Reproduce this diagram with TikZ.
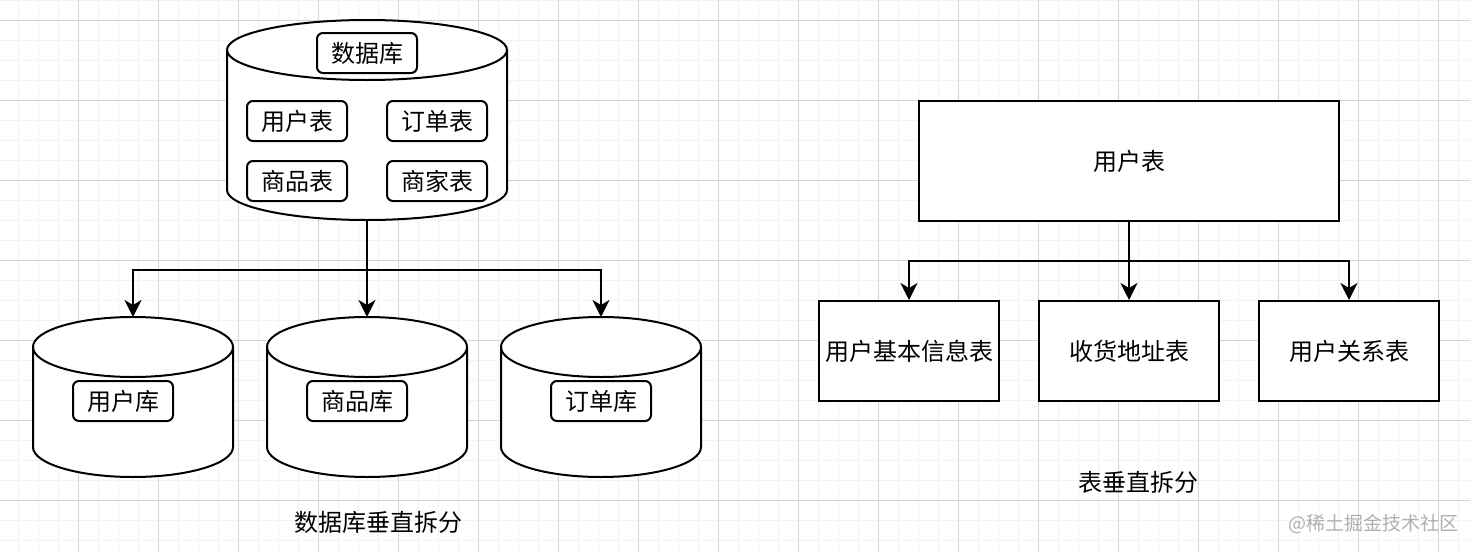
\documentclass[tikz,border=0pt]{standalone}
\usepackage{fontspec}
\newfontfamily\cjk{Noto Sans CJK SC}
\usetikzlibrary{arrows.meta}
\definecolor{minorgrid}{RGB}{243,243,243}
\definecolor{majorgrid}{RGB}{212,212,212}
\definecolor{wmark}{RGB}{175,175,175}
\newcommand\mycyl[5]{% cx, top, bottom, rx, ry
  \filldraw[line width=2pt,fill=white] (#1-#4,#2+#5) -- (#1-#4,#3-#5)
    arc[start angle=180,end angle=360,x radius=#4pt,y radius=#5pt]
    -- (#1+#4,#2+#5)
    arc[start angle=0,end angle=180,x radius=#4pt,y radius=#5pt] -- cycle;
  \draw[line width=2pt] (#1-#4,#2+#5)
    arc[start angle=180,end angle=360,x radius=#4pt,y radius=#5pt];
}
\tikzset{
  txt/.style={font=\cjk\fontsize{24}{27}\selectfont, inner sep=0pt},
  rbox/.style={txt, draw, line width=2pt, rounded corners=6pt, fill=white,
    minimum width=100pt, minimum height=40pt},
  sbox/.style={txt, draw, line width=2pt, fill=white},
  holder/.style={inner sep=0pt, outer sep=0pt},
  arr/.style={line width=2pt, -{Stealth[length=17pt,width=17pt,inset=5pt]}},
  plain/.style={line width=2pt},
}
\begin{document}
\begin{tikzpicture}[x=1pt,y=-1pt]
\useasboundingbox (0,0) rectangle (1470,552);
\fill[white] (0,0) rectangle (1470,552);
% grid
\foreach \gx in {18,38,...,1470} \draw[minorgrid,line width=1pt] (\gx,0) -- (\gx,552);
\foreach \gy in {0,20,...,552} \draw[minorgrid,line width=1pt] (0,\gy) -- (1470,\gy);
\foreach \gx in {78,158,...,1470} \draw[majorgrid,line width=1pt] (\gx,0) -- (\gx,552);
\foreach \gy in {20,100,...,552} \draw[majorgrid,line width=1pt] (0,\gy) -- (1470,\gy);

% ---- left: database vertical split ----
\node[holder, minimum width=280pt, minimum height=200pt] (db) at (367,120) {};
\mycyl{367}{20}{220}{140}{30}
\node[rbox] (dbl) at (367,53) {数据库};
\node[rbox] (t1) at (297,121) {用户表};
\node[rbox] (t2) at (437,121) {订单表};
\node[rbox] (t3) at (297,181) {商品表};
\node[rbox] (t4) at (437,181) {商家表};

\node[holder, minimum width=200pt, minimum height=160pt] (c1) at (133,397) {};
\node[holder, minimum width=200pt, minimum height=160pt] (c2) at (367,397) {};
\node[holder, minimum width=200pt, minimum height=160pt] (c3) at (601,397) {};
\mycyl{133}{317}{477}{100}{30}
\mycyl{367}{317}{477}{100}{30}
\mycyl{601}{317}{477}{100}{30}
\node[rbox] (l1) at (123,401) {用户库};
\node[rbox] (l2) at (357,401) {商品库};
\node[rbox] (l3) at (601,401) {订单库};

\coordinate (j1) at (367,270);
\draw[plain] (db.south) -- (j1);
\draw[arr] (j1) -| (c1.north);
\draw[arr] (j1) -- (c2.north);
\draw[arr] (j1) -| (c3.north);

\node[txt] (cap1) at (378,522) {数据库垂直拆分};

% ---- right: table vertical split ----
\node[sbox, minimum width=420pt, minimum height=120pt] (ut) at (1129,161) {用户表};
\node[sbox, minimum width=180pt, minimum height=100pt] (s1) at (909,351) {用户基本信息表};
\node[sbox, minimum width=180pt, minimum height=100pt] (s2) at (1129,351) {收货地址表};
\node[sbox, minimum width=180pt, minimum height=100pt] (s3) at (1349,351) {用户关系表};
\coordinate (j2) at (1129,261);
\draw[plain] (ut.south) -- (j2);
\draw[arr] (j2) -| (s1.north);
\draw[arr] (j2) -- (s2.north);
\draw[arr] (j2) -| (s3.north);

\node[txt] (cap2) at (1138,482) {表垂直拆分};

\node[txt, text=wmark, font=\cjk\fontsize{19}{22}\selectfont] (wm) at (1373,524) {@稀土掘金技术社区};
\end{tikzpicture}
\end{document}
